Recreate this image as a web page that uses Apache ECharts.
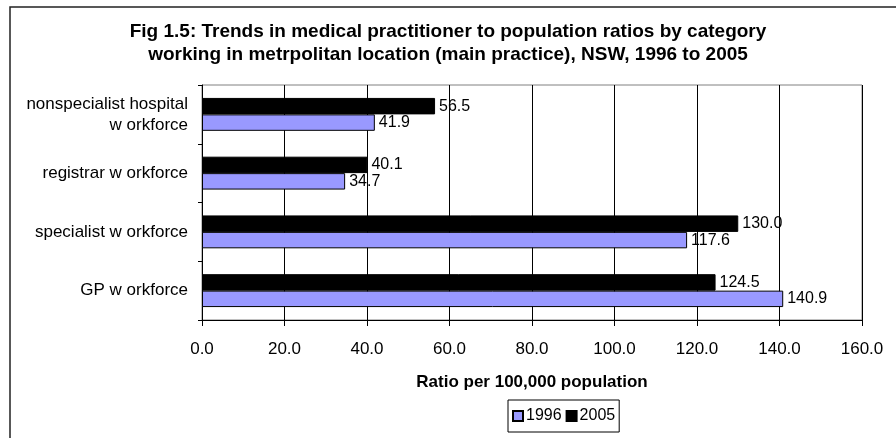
<!DOCTYPE html>
<html>
<head>
<meta charset="utf-8">
<script src="https://cdn.jsdelivr.net/npm/echarts@6/dist/echarts.min.js"></script>
<style>
html,body{margin:0;padding:0;background:#fff;}
#chart{width:896px;height:438px;}
</style>
</head>
<body>
<div id="chart"></div>
<script>
// categories bottom -> top (category y axis starts at the bottom)
var categories = ['GP w orkforce', 'specialist w orkforce', 'registrar w orkforce', 'nonspecialist hospital\nw orkforce'];
var years = ['1996', '2005'];
var values1996 = [140.9, 117.6, 34.7, 41.9];
var values2005 = [124.5, 130.0, 40.1, 56.5];
var xTicks = [0, 20, 40, 60, 80, 100, 120, 140, 160];

var fontFam = '"Liberation Sans", Arial, sans-serif';

var valueLabel = {
    show: true,
    position: 'right',
    distance: 4,
    color: '#000',
    fontSize: 16,
    fontFamily: fontFam,
    formatter: function (p) { return p.value.toFixed(1); }
};

var option = {
    backgroundColor: '#fff',
    animation: false,
    title: {
        text: 'Fig 1.5: Trends in medical practitioner to population ratios by category\nworking in metrpolitan location (main practice), NSW, 1996 to 2005',
        left: 'center',
        top: 20,
        padding: [0, 0, 0, 14],
        textStyle: {
            fontSize: 19,
            fontWeight: 'bold',
            lineHeight: 23,
            color: '#000',
            fontFamily: fontFam
        }
    },
    graphic: [{
        type: 'rect',
        shape: { x: 10, y: 7, width: 1000, height: 1000 },
        style: { fill: 'none', stroke: '#222', lineWidth: 1.5 },
        silent: true
    }],
    legend: {
        data: years,
        left: 508,
        top: 400,
        orient: 'horizontal',
        icon: 'rect',
        itemWidth: 10,
        itemHeight: 10,
        itemGap: 4,
        padding: [8, 4, 8, 4],
        borderColor: '#000',
        borderWidth: 1,
        textStyle: { fontSize: 16, color: '#000', fontFamily: fontFam, padding: [0, 0, 0, -2] }
    },
    grid: {
        left: 202,
        right: 34,
        top: 85,
        bottom: 118,
        show: true,
        borderColor: '#808080',
        borderWidth: 1,
        backgroundColor: '#fff'
    },
    xAxis: {
        type: 'value',
        min: xTicks[0],
        max: xTicks[xTicks.length - 1],
        interval: 20,
        name: 'Ratio per 100,000 population',
        nameLocation: 'middle',
        nameGap: 54,
        nameTextStyle: { fontSize: 17, fontWeight: 'bold', color: '#000', fontFamily: fontFam },
        axisLine: { show: true, lineStyle: { color: '#000', width: 1 } },
        axisTick: { show: true, length: 6, lineStyle: { color: '#000' } },
        axisLabel: {
            fontSize: 17,
            color: '#000',
            margin: 21,
            fontFamily: fontFam,
            formatter: function (v) { return v.toFixed(1); }
        },
        splitLine: { show: true, lineStyle: { color: '#000', width: 1 } }
    },
    yAxis: {
        type: 'category',
        data: categories,
        axisLine: { show: true, lineStyle: { color: '#000', width: 1 } },
        axisTick: { show: true, length: 4, lineStyle: { color: '#000' } },
        axisLabel: {
            fontSize: 17,
            color: '#000',
            margin: 14,
            lineHeight: 21,
            align: 'right',
            fontFamily: fontFam
        },
        splitLine: { show: false }
    },
    // 2005 listed first so that 1996 sits at the bottom of each pair
    series: [
        {
            name: years[1],
            type: 'bar',
            data: values2005,
            barGap: '0%',
            barCategoryGap: '44%',
            itemStyle: { color: '#000', borderColor: '#000', borderWidth: 1 },
            label: valueLabel
        },
        {
            name: years[0],
            type: 'bar',
            data: values1996,
            barGap: '0%',
            barCategoryGap: '44%',
            itemStyle: { color: '#9999ff', borderColor: '#000', borderWidth: 1 },
            label: valueLabel
        }
    ]
};

var chart = echarts.init(document.getElementById('chart'), null, { renderer: 'canvas' });
chart.setOption(option);
</script>
</body>
</html>
